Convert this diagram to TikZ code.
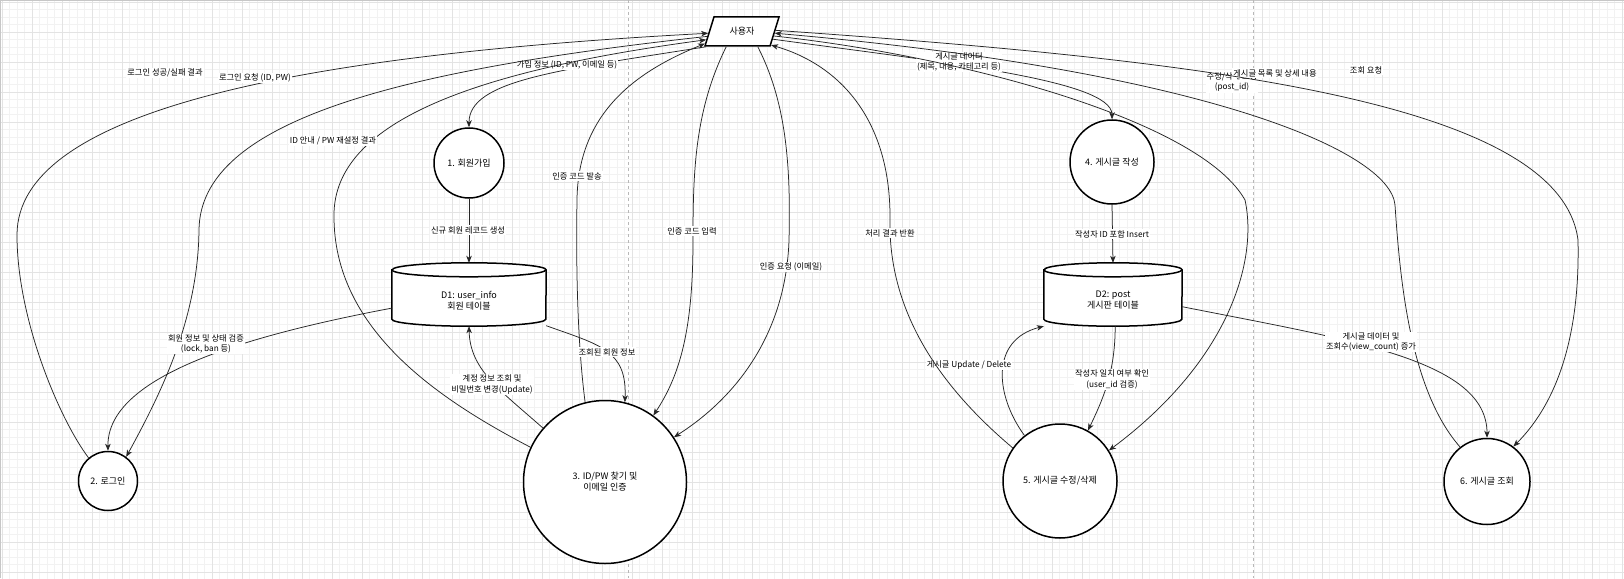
\documentclass[tikz,border=0pt]{standalone}
\usepackage{fontspec}
\setmainfont{Noto Sans CJK KR}
\usetikzlibrary{shapes.geometric,arrows.meta}
\newcommand{\procfont}{\fontsize{9}{11}\selectfont}
\newcommand{\flowfont}{\fontsize{8.25}{10.5}\selectfont}
\tikzstyle{proc}=[draw, line width=1.5pt, fill=white, ellipse, inner sep=0pt, align=center, font=\procfont]
\tikzstyle{actor}=[draw, line width=1.5pt, fill=white, trapezium, trapezium left angle=64, trapezium right angle=116, trapezium stretches=true, minimum width=74pt, minimum height=29pt, inner sep=0pt, font=\procfont]
\tikzstyle{storebox}=[inner sep=0pt, minimum height=63pt]
\tikzstyle{storeline}=[draw, line width=1.5pt, fill=white]
\tikzstyle{storetext}=[inner sep=0pt, align=center, font=\procfont]
\tikzstyle{flow}=[draw=black!85, line width=0.75pt, -{Stealth[length=7pt,width=5.5pt,inset=2pt]}]
\tikzstyle{flowlabel}=[fill=white, inner sep=1pt, align=center, font=\flowfont]
\tikzstyle{minorgrid}=[draw=black!5, line width=0.4pt]
\tikzstyle{majorgrid}=[draw=black!11, line width=0.6pt]
\tikzstyle{lane}=[draw=black!28, line width=0.8pt, dash pattern=on 3pt off 3pt]
\newcommand{\drawstore}[2]{

\draw[storeline] ([yshift=-7pt]#1.north west) -- ([yshift=7pt]#1.south west)
	arc[start angle=180, end angle=360, x radius=#2pt, y radius=7pt]
	-- ([yshift=-7pt]#1.north east)
	arc[start angle=0, end angle=180, x radius=#2pt, y radius=7pt] -- cycle;
\draw[storeline, fill=none] ([yshift=-7pt]#1.north west) arc[start angle=180, end angle=360, x radius=#2pt, y radius=7pt];

}

\begin{document}
\begin{tikzpicture}[x=1pt, y=-1pt]
	\useasboundingbox (0,0) rectangle (1624,578);
	\fill[white] (0,0) rectangle (1624,578);
	% canvas grid and lanes
	\draw[minorgrid, step=7.5pt, xshift=2pt, yshift=-2pt] (-2,580) grid (1624,-2);
	\draw[majorgrid, step=30pt, xshift=2pt, yshift=-2pt] (-2,580) grid (1624,-2);
	\draw[black!22, line width=1.2pt] (0.6,578) -- (0.6,0.6) -- (1624,0.6);
	\draw[lane] (628,0) -- (628,578);
	\draw[lane] (1253,0) -- (1253,578);

	% processes
	\node[actor] (user) at (742,31.5) {사용자};
	\node[proc, minimum size=70pt] (signup) at (469,163) {1. 회원가입};
	\node[proc, minimum size=59pt] (login) at (108,481) {2. 로그인};
	\node[proc, minimum size=163pt] (findpw) at (605,482) {3. ID/PW 찾기 및\\이메일 인증};
	\node[proc, minimum size=84pt] (write) at (1112,162) {4. 게시글 작성};
	\node[proc, minimum size=114pt] (edit) at (1060,481) {5. 게시글 수정/삭제};
	\node[proc, minimum size=86pt] (view) at (1487,481.5) {6. 게시글 조회};

	% data stores
	\node[storebox, minimum width=154pt] (d1) at (469,294.5) {};
	\drawstore{d1}{77}
	\node[storetext] (d1text) at ([yshift=-6pt]d1.center) {D1: user\_info\\회원 테이블};
	\node[storebox, minimum width=138pt] (d2) at (1113,294.5) {};
	\drawstore{d2}{69}
	\node[storetext] (d2text) at ([yshift=-6pt]d2.center) {D2: post\\게시판 테이블};

	% board side
	\draw[flow] (write.south) -- (d2.north);
	\node[flowlabel] (l17) at (1112,234) {작성자 ID 포함 Insert};
	\draw[flow] (user.-14) .. controls (940,62) and (1112,80) .. (write.north);
	\node[flowlabel] (l12) at (959,62) {게시글 데이터\\(제목, 내용, 카테고리 등)};
	\draw[flow] (user.-8) .. controls (960,56) and (1200,120) .. (1245,200) .. controls (1258,260) and (1230,360) .. (edit.32);
	\node[flowlabel] (l13) at (1232,82) {수정/삭제 요청\\(post\_id)};
	\draw[flow] (view.128) .. controls (1410,390) and (1400,280) .. (1395,205) .. controls (1390,150) and (1200,70) .. (user.-3);
	\node[flowlabel] (l14) at (1275,73) {게시글 목록 및 상세 내용};
	\draw[flow] (user.2) .. controls (1200,60) and (1560,100) .. (1578,240) .. controls (1580,330) and (1560,400) .. (view.53);
	\node[flowlabel] (l15) at (1366,70) {조회 요청};
	\draw[flow] (d2.-10) .. controls (1350,340) and (1487,360) .. (view.north);
	\node[flowlabel] (l20) at (1371,342) {게시글 데이터 및\\조회수(view\_count) 증가};
	\draw[flow] (edit.128) .. controls (995,395) and (990,340) .. (d2.south west);
	\node[flowlabel] (l18) at (969,365) {게시글 Update / Delete};
	\draw[flow] (d2.-86) .. controls (1115,370) and (1105,395) .. (edit.61);
	\node[flowlabel] (l19) at (1112,379.5) {작성자 일치 여부 확인\\(user\_id 검증)};
	\draw[flow] (edit.145) .. controls (950,395) and (888,320) .. (890,220) .. controls (891,120) and (840,65) .. (user.-25);
	\node[flowlabel] (l16) at (890,233) {처리 결과 반환};

	% member side
	\draw[flow] (user.203) .. controls (560,70) and (469,80) .. (signup.north);
	\node[flowlabel] (l4) at (567,65) {가입 정보 (ID, PW, 이메일 등)};
	\draw[flow] (signup.south) -- (d1.north);
	\node[flowlabel] (l8) at (468,230) {신규 회원 레코드 생성};
	\draw[flow] (login.130) .. controls (60,420) and (17,320) .. (17,235) .. controls (17,110) and (300,55) .. (user.183);
	\node[flowlabel] (l1) at (165,73) {로그인 성공/실패 결과};
	\draw[flow] (user.188) .. controls (400,70) and (200,120) .. (199,230) .. controls (198,320) and (160,395) .. (login.53);
	\node[flowlabel] (l2) at (255,78) {로그인 요청 (ID, PW)};
	\draw[flow] (d1.190) .. controls (250,335) and (107,375) .. (login.north);
	\node[flowlabel] (l9) at (206,344) {회원 정보 및 상태 검증\\(lock, ban 등)};
	\draw[flow] (findpw.155) .. controls (440,400) and (333,330) .. (334,215) .. controls (334,120) and (480,70) .. (user.193);
	\node[flowlabel] (l3) at (333,141) {ID 안내 / PW 재설정 결과};
	\draw[flow] (findpw.104) .. controls (577,340) and (576,260) .. (577,200) .. controls (578,110) and (640,70) .. (user.198);
	\node[flowlabel] (l5) at (577,176) {인증 코드 발송};
	\draw[flow] (user.224) .. controls (695,110) and (693,170) .. (693,240) .. controls (693,330) and (680,375) .. (findpw.54);
	\node[flowlabel] (l6) at (692,231) {인증 코드 입력};
	\draw[flow] (user.-44) .. controls (785,100) and (791,160) .. (789,240) .. controls (786,330) and (740,395) .. (findpw.33);
	\node[flowlabel] (l7) at (791,267) {인증 요청 (이메일)};
	\draw[flow] (d1.-22) .. controls (600,345) and (627,350) .. (findpw.76);
	\node[flowlabel] (l10) at (607,352) {조회된 회원 정보};
	\draw[flow] (findpw.139) .. controls (500,390) and (470,370) .. (d1.south);
	\node[flowlabel] (l11) at (492,384.5) {계정 정보 조회 및\\비밀번호 변경(Update)};
\end{tikzpicture}
\end{document}
